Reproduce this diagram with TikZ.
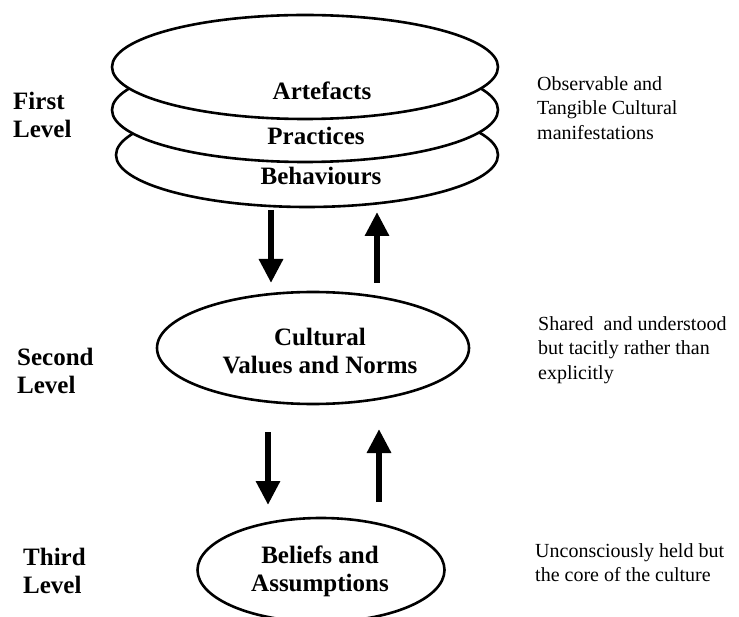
\documentclass[tikz,border=0pt]{standalone}
\usepackage{fontspec}
\setmainfont{Liberation Serif}
\usetikzlibrary{arrows.meta,shapes.geometric}

\begin{document}
\begin{tikzpicture}[x=1pt,y=-1pt,
 disc/.style={draw,ellipse,line width=2.6pt,fill=white,inner sep=0pt},
 lvl/.style={anchor=north west,inner sep=0pt,align=left,font=\fontsize{25}{28}\selectfont\bfseries},
 note/.style={anchor=north west,inner sep=0pt,align=left,font=\fontsize{20}{24.5}\selectfont},
 tag/.style={inner sep=0pt,align=center,font=\fontsize{25}{28}\selectfont\bfseries},
 >={Triangle[width=23pt,length=24pt]}]
\useasboundingbox (0,0) rectangle (739,617);
% first level, back disc drawn first
\node[disc,minimum width=382pt,minimum height=104pt] (beh) at (307,155) {};
\node[disc,minimum width=386pt,minimum height=104pt] (prac) at (305,110) {};
\node[disc,minimum width=386pt,minimum height=104pt] (art) at (305,67) {};
\node[tag,anchor=base] (artT) at (322,100) {Artefacts};
\node[tag,anchor=base] (pracT) at (316,145) {Practices};
\node[tag,anchor=base] (behT) at (321,185) {Behaviours};
% second and third level
\node[disc,minimum width=312pt,minimum height=112pt] (val) at (313,348) {};
\node[tag,anchor=north] (valT) at (320,328) {Cultural\\Values and Norms};
\node[disc,minimum width=247pt,minimum height=104pt] (bel) at (321,570) {};
\node[tag,anchor=north] (belT) at (320,546) {Beliefs and\\Assumptions};
% level names
\node[lvl] (l1) at (13,92) {First\\Level};
\node[lvl] (l2) at (17,348) {Second\\Level};
\node[lvl] (l3) at (23,548) {Third\\Level};
% notes on the right
\node[note] (n1) at (537,76) {Observable and\\Tangible Cultural\\manifestations};
\node[note] (n2) at (538,316) {Shared\ \ and understood\\but tacitly rather than\\explicitly};
\node[note] (n3) at (535,543) {Unconsciously held but\\the core of the culture};
% arrows between the levels
\coordinate (d1a) at (271,210); \coordinate (d1b) at (271,283);
\coordinate (u1a) at (377,283); \coordinate (u1b) at (377,212);
\coordinate (d2a) at (268,432); \coordinate (d2b) at (268,505);
\coordinate (u2a) at (379,502); \coordinate (u2b) at (379,429);
\draw[->,line width=6pt] (d1a)--(d1b);\draw[->,line width=6pt] (u1a)--(u1b);
\draw[->,line width=6pt] (d2a)--(d2b);\draw[->,line width=6pt] (u2a)--(u2b);
\end{tikzpicture}
\end{document}
